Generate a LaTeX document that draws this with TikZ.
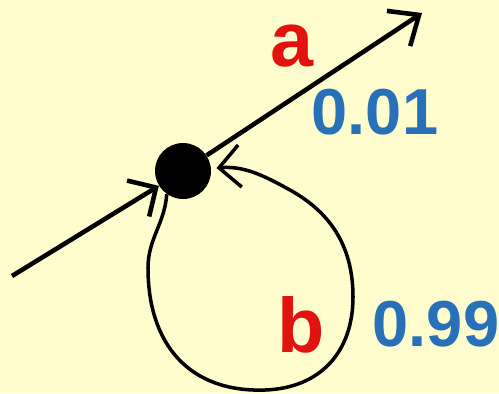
\documentclass[tikz,border=0pt]{standalone}
\usepackage{fontspec}
\setmainfont{Liberation Sans}
\usetikzlibrary{arrows.meta}
\definecolor{bgcream}{RGB}{255,253,206}
\definecolor{labred}{RGB}{226,18,14}
\definecolor{probblue}{RGB}{40,112,184}
\tikzset{
  barb/.style={-{Straight Barb[length=12pt, width=24pt]}},
  labtext/.style={text=labred, font=\fontsize{44}{44}\selectfont\bfseries},
  probtext/.style={text=probblue, font=\fontsize{37}{37}\selectfont\bfseries}
}
\begin{document}
\begin{tikzpicture}[x=0.02cm, y=0.02cm]
  \fill[bgcream] (0,0) rectangle (499,393);
  \useasboundingbox (0,0) rectangle (499,393);
  % state (black dot), radius ~28 units
  \node[circle, fill=black, minimum size=1.12cm, inner sep=0pt] (S) at (183,222) {};
  \coordinate (In) at (12,117);
  \coordinate (Out) at (422,380);
  % loop: leftmost, bottom, rightmost and upper right points
  \coordinate (L) at (148,125);
  \coordinate (B) at (265,3);
  \coordinate (R) at (353,96);
  \coordinate (T) at (290,203);
  \draw[line width=2.6pt, barb] (In) -- (S);
  \draw[line width=2.6pt, -{Straight Barb[length=14pt, width=24pt]}] (S) -- (Out);
  \draw[line width=2pt, barb, shorten >=3pt]
    (S.235) to[out=266, in=90] (L) to[out=270, in=182, looseness=1.15] (B)
    to[out=2, in=270, looseness=1.1] (R) to[out=90, in=-29] (T) to[out=151, in=5] (S);
  \node[labtext] (a) at (292,347) {a};
  \node[probtext] (pa) at (375,281) {0.01};
  \node[labtext] (b) at (301,68) {b};
  \node[probtext] (pb) at (436,69) {0.99};
\end{tikzpicture}
\end{document}
